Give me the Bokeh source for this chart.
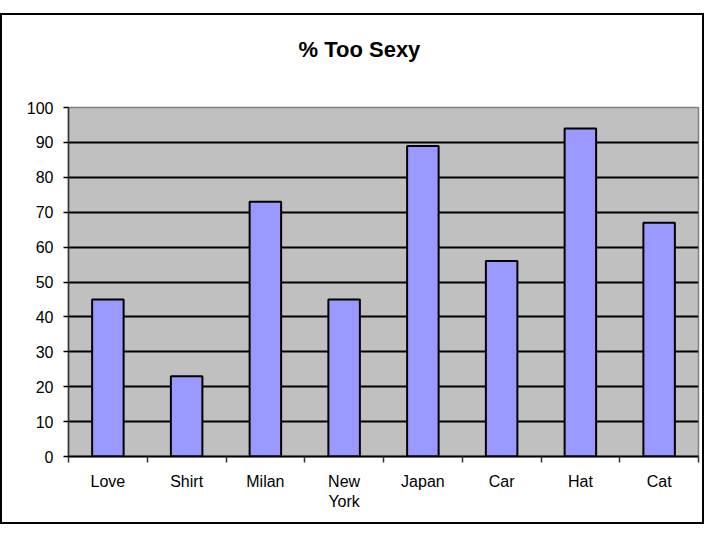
from bokeh.plotting import figure
from bokeh.models import Range1d, FixedTicker, LinearAxis, Grid
from bokeh.layouts import column
from bokeh.embed import file_html
from bokeh.resources import INLINE

categories = ["Love", "Shirt", "Milan", "New\nYork", "Japan", "Car", "Hat", "Cat"]
values = [45, 23, 73, 45, 89, 56, 94, 67]
y_ticks = [0, 10, 20, 30, 40, 50, 60, 70, 80, 90, 100]
title_text = "% Too Sexy"

centers = [i + 0.5 for i in range(len(categories))]
bounds = [float(i) for i in range(len(categories) + 1)]

FONT = "Liberation Sans"
W, H = 700, 507

p = figure(width=W, height=H, output_backend="svg", toolbar_location=None,
           x_range=Range1d(0, len(categories)), y_range=Range1d(0, 100),
           x_axis_type=None, y_axis_type=None,
           min_border_left=66, min_border_top=92, min_border_right=4, min_border_bottom=66,
           background_fill_color="#C0C0C0", border_fill_color="white")

p.outline_line_color = "#808080"
p.outline_line_width = 1.5

p.title.text = title_text
p.title.align = "left"
p.title.text_font = FONT
p.title.text_font_size = "22px"
p.title.text_font_style = "bold"
p.title.text_color = "black"
p.title.offset = 230
p.title.standoff = 10

# invisible spacer between the title and the plot area
mid = len(categories) / 2
spacer = LinearAxis(ticker=FixedTicker(ticks=[mid], minor_ticks=[]))
spacer.major_label_overrides = {mid: ""}
spacer.axis_line_color = None
spacer.major_tick_line_color = None
spacer.minor_tick_line_color = None
spacer.major_tick_out = 41
spacer.major_tick_in = 0
spacer.minor_tick_out = 0
spacer.major_label_standoff = 0
p.add_layout(spacer, "above")

# y axis
yax = LinearAxis(ticker=FixedTicker(ticks=y_ticks, minor_ticks=[]))
yax.major_tick_out = 5
yax.major_tick_in = 0
yax.major_tick_line_color = "black"
yax.major_tick_line_width = 1.5
yax.axis_line_color = "#333333"
yax.axis_line_width = 1.5
yax.major_label_standoff = 10
yax.major_label_text_font = FONT
yax.major_label_text_font_size = "16px"
yax.major_label_text_color = "black"
p.add_layout(yax, "left")

# x axis: labels at centres, ticks at boundaries
xax = LinearAxis(ticker=FixedTicker(ticks=centers, minor_ticks=bounds))
xax.major_label_overrides = {c: lab for c, lab in zip(centers, categories)}
xax.major_tick_out = 0
xax.major_tick_in = 0
xax.minor_tick_out = 6
xax.minor_tick_in = 0
xax.minor_tick_line_color = "#333333"
xax.minor_tick_line_width = 1.5
xax.axis_line_color = "black"
xax.axis_line_width = 2
xax.major_label_standoff = 10
xax.major_label_text_font = FONT
xax.major_label_text_font_size = "16px"
xax.major_label_text_color = "black"
p.add_layout(xax, "below")

grid = Grid(dimension=1, ticker=FixedTicker(ticks=y_ticks[1:-1]),
            grid_line_color="black", grid_line_width=2)
p.add_layout(grid)

p.vbar(x=centers, top=values, width=0.4, fill_color="#9999FF",
       line_color="black", line_width=2)

inner = column(p, styles={"border": "2px solid black"})
outer = column(inner, styles={"padding-top": "13px"})

open("out.html", "w").write(file_html(outer, INLINE))
